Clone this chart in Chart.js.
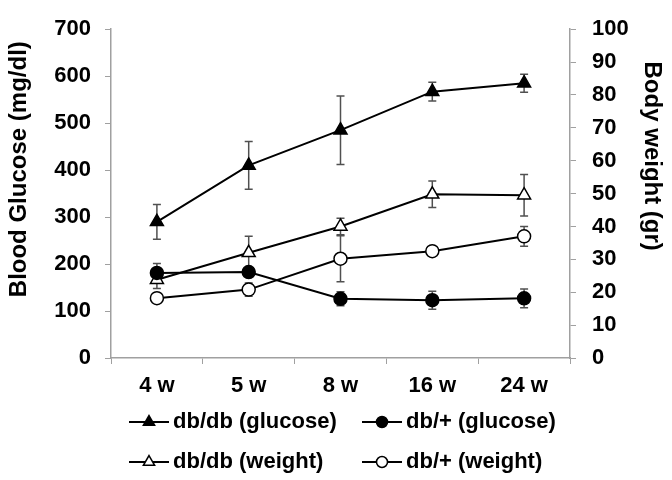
<!DOCTYPE html>
<html lang="en">
<head>
<meta charset="UTF-8">
<title>Blood glucose and body weight</title>
<script src="https://cdn.jsdelivr.net/npm/chart.js"></script>
<style>
  html, body { margin: 0; padding: 0; background: #fff; }
  #wrap { width: 672px; height: 480px; }
</style>
</head>
<body>
<div id="wrap"><canvas id="chart" width="672" height="480"></canvas></div>
<script>
// data
const weeks = ['4 w', '5 w', '8 w', '16 w', '24 w'];

const glucoseDbDb = [290, 410, 485, 567, 585];
const glucoseDbDbErr = [37, 51, 73, 20, 19];
const glucoseDbPlus = [181, 183, 126, 123, 127];
const glucoseDbPlusErr = [20, 0, 15, 19, 20];

const weightDbDb = [23.8, 32, 40, 49.8, 49.5];
const weightDbDbErr = [2.7, 5, 2.5, 4, 6.3];
const weightDbPlus = [18.2, 20.8, 30.2, 32.5, 37];
const weightDbPlusErr = [1.5, 2, 7, 1, 3];

const glucoseMax = 700, glucoseStep = 100;
const weightMax = 100, weightStep = 10;

const glucoseTitle = 'Blood Glucose (mg/dl)';
const weightTitle = 'Body weight (gr)';

const FONT = 'Liberation Sans, Arial, sans-serif';
const axisGray = '#a0a0a0';

Chart.defaults.font.family = FONT;
Chart.defaults.font.weight = 'bold';
Chart.defaults.color = '#000';

// error bars, drawn under the lines and markers
const errorBars = {
  id: 'errorBars',
  beforeDatasetsDraw(chart) {
    const ctx = chart.ctx;
    ctx.save();
    ctx.strokeStyle = '#505050';
    ctx.lineWidth = 1.5;
    chart.data.datasets.forEach((ds, i) => {
      if (!ds.errors) return;
      const meta = chart.getDatasetMeta(i);
      const scale = chart.scales[ds.yAxisID];
      meta.data.forEach((pt, j) => {
        const e = ds.errors[j];
        if (!e) return;
        const v = ds.data[j];
        const top = scale.getPixelForValue(v + e);
        const bot = scale.getPixelForValue(v - e);
        ctx.beginPath();
        ctx.moveTo(pt.x, top); ctx.lineTo(pt.x, bot);
        ctx.moveTo(pt.x - 4, top); ctx.lineTo(pt.x + 4, top);
        ctx.moveTo(pt.x - 4, bot); ctx.lineTo(pt.x + 4, bot);
        ctx.stroke();
      });
    });
    ctx.restore();
  }
};

// axis titles sit a bit above the middle in the original, so place them by hand
const axisTitles = {
  id: 'axisTitles',
  afterDraw(chart) {
    const ctx = chart.ctx;
    const area = chart.chartArea;
    ctx.save();
    ctx.fillStyle = '#000';
    ctx.font = 'bold 24px ' + FONT;
    ctx.textAlign = 'center';
    ctx.textBaseline = 'middle';

    ctx.save();
    ctx.translate(chart.scales.yG.left + 15, area.top + 140);
    ctx.rotate(-Math.PI / 2);
    ctx.fillText(glucoseTitle, 0, 0);
    ctx.restore();

    ctx.save();
    ctx.translate(chart.scales.yW.right - 16, area.top + 127);
    ctx.rotate(Math.PI / 2);
    ctx.fillText(weightTitle, 0, 0);
    ctx.restore();

    ctx.restore();
  }
};

// 2 x 2 legend under the x axis
const gridLegend = {
  id: 'gridLegend',
  afterDraw(chart) {
    const ctx = chart.ctx;
    const area = chart.chartArea;
    const cols = [area.left + 18, area.left + 251];
    const rows = [area.bottom + 64, area.bottom + 104];
    ctx.save();
    chart.data.datasets.forEach((ds, i) => {
      const x = cols[i % 2], y = rows[Math.floor(i / 2)];
      ctx.strokeStyle = '#000';
      ctx.lineWidth = 2;
      ctx.beginPath();
      ctx.moveTo(x, y); ctx.lineTo(x + 40, y);
      ctx.stroke();
      ctx.fillStyle = ds.pointBackgroundColor;
      ctx.lineWidth = 1.5;
      Chart.helpers.drawPoint(ctx, {
        pointStyle: ds.pointStyle, radius: ds.pointRadius - 1, rotation: 0, borderWidth: 1.5
      }, x + 20, y);
      ctx.fillStyle = '#000';
      ctx.font = 'bold 22px ' + FONT;
      ctx.textBaseline = 'middle';
      ctx.fillText(ds.label, x + 44, y);
    });
    ctx.restore();
  }
};

function series(label, data, errors, axis, style, filled) {
  return {
    label, data, errors,
    yAxisID: axis,
    borderColor: '#000',
    borderWidth: 2,
    pointStyle: style,
    pointRadius: style === 'triangle' ? 7.5 : 6.5,
    pointHoverRadius: style === 'triangle' ? 7.5 : 6.5,
    pointBackgroundColor: filled ? '#000' : '#fff',
    pointBorderColor: '#000',
    pointBorderWidth: 1.5,
    tension: 0,
    fill: false
  };
}

new Chart(document.getElementById('chart'), {
  type: 'line',
  data: {
    labels: weeks,
    datasets: [
      series('db/db (glucose)', glucoseDbDb, glucoseDbDbErr, 'yG', 'triangle', true),
      series('db/+ (glucose)', glucoseDbPlus, glucoseDbPlusErr, 'yG', 'circle', true),
      series('db/db (weight)', weightDbDb, weightDbDbErr, 'yW', 'triangle', false),
      series('db/+ (weight)', weightDbPlus, weightDbPlusErr, 'yW', 'circle', false)
    ]
  },
  options: {
    responsive: false,
    animation: false,
    layout: { padding: { left: 4, right: 4, top: 15, bottom: 85 } },
    plugins: { legend: { display: false }, tooltip: { enabled: false } },
    scales: {
      x: {
        offset: true,
        grid: { offset: true, drawOnChartArea: false, color: axisGray, tickLength: 6 },
        border: { color: axisGray, width: 1.5 },
        ticks: { font: { size: 22 }, padding: 9 },
        afterFit: s => { s.height = 37; }
      },
      yG: {
        position: 'left',
        min: 0, max: glucoseMax,
        grid: { drawOnChartArea: false, color: axisGray, tickLength: 6 },
        border: { color: axisGray, width: 1.5 },
        ticks: { stepSize: glucoseStep, font: { size: 22 }, padding: 14 },
        afterFit: s => { s.width = 107; }
      },
      yW: {
        position: 'right',
        min: 0, max: weightMax,
        grid: { drawOnChartArea: false, color: axisGray, tickLength: 6 },
        border: { color: axisGray, width: 1.5 },
        ticks: { stepSize: weightStep, font: { size: 22 }, padding: 16 },
        afterFit: s => { s.width = 98; }
      }
    }
  },
  plugins: [errorBars, axisTitles, gridLegend]
});
</script>
</body>
</html>
